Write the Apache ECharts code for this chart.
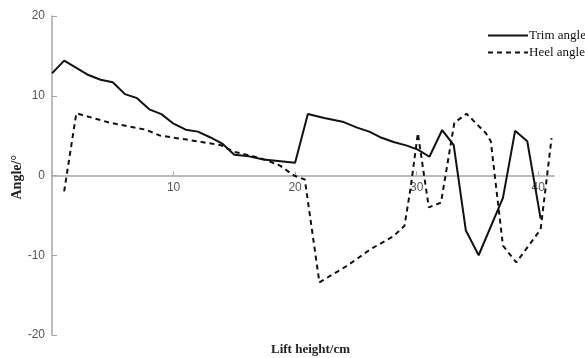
<!DOCTYPE html>
<html>
<head>
<meta charset="utf-8">
<script src="https://cdn.jsdelivr.net/npm/echarts@6/dist/echarts.min.js"></script>
<style>html,body{margin:0;padding:0;background:#fff}#c{width:585px;height:358px}</style>
</head>
<body>
<div id="c"></div>
<script>
var trimX = [0, 1, 2, 3, 4, 5, 6, 7, 8, 9, 10, 11, 12, 13, 14, 15, 16.2, 17.4, 18.8, 20, 21.05, 22.4, 24, 25.1, 26.1, 27, 28.1, 29.2, 30.1, 31.05, 32.1, 33.05, 34.05, 35.1, 37.1, 38.1, 39.1, 40.2];
var trimY = [12.8, 14.4, 13.5, 12.6, 12.0, 11.7, 10.2, 9.7, 8.3, 7.7, 6.5, 5.75, 5.5, 4.8, 4.0, 2.6, 2.4, 2.0, 1.8, 1.6, 7.7, 7.2, 6.7, 6.0, 5.5, 4.8, 4.2, 3.75, 3.25, 2.35, 5.7, 3.8, -6.9, -10.0, -2.8, 5.6, 4.3, -5.4];
var heelX = [1, 2, 4.8, 7.7, 8.9, 11.1, 13.9, 14.9, 16.6, 17.7, 18.8, 19.9, 20.8, 22.0, 24.3, 26.2, 28.1, 29.0, 29.5, 30.1, 31.0, 32.0, 33.1, 34.1, 35.7, 36.1, 37.1, 38.2, 40.2, 41.1];
var heelY = [-2.0, 7.8, 6.6, 5.75, 5.0, 4.5, 3.8, 3.0, 2.4, 1.9, 1.2, 0.0, -0.5, -13.4, -11.3, -9.25, -7.6, -6.3, -1.6, 5.3, -4.0, -3.4, 6.6, 7.75, 5.3, 4.3, -8.8, -10.9, -6.75, 4.7];
var xTicks = [0, 10, 20, 30, 40];
var xLabels = [10, 20, 30, 40];
var seriesNames = ['Trim angle', 'Heel angle'];

function pairs(xs, ys) { return xs.map(function (x, i) { return [x, ys[i]]; }); }

var gridTop = 16, gridBottom = 23, H = 358;
var chart = echarts.init(document.getElementById('c'), null, {renderer: 'canvas'});
chart.setOption({
  animation: false,
  backgroundColor: '#ffffff',
  grid: {left: 52, right: 31, top: gridTop, bottom: gridBottom, containLabel: false},
  legend: {
    left: 482, top: 24, orient: 'vertical', itemWidth: 40, itemHeight: 14, itemGap: 4,
    data: seriesNames,
    itemStyle: {color: 'rgba(0,0,0,0)', borderWidth: 0, opacity: 0},
    textStyle: {fontFamily: 'Liberation Serif', fontSize: 13, color: '#111', padding: [0, 0, 0, -4]}
  },
  xAxis: {
    type: 'value', min: 0, max: 41.3, interval: 10, position: 'bottom',
    offset: -((H - gridTop - gridBottom) / 2),
    axisLine: {onZero: false, lineStyle: {color: '#a6a6a6', width: 1.5}},
    axisTick: {inside: true, length: 4, customValues: xTicks, lineStyle: {color: '#a6a6a6'}},
    axisLabel: {customValues: xLabels, color: '#555', fontFamily: 'Liberation Sans', fontSize: 12, margin: 6},
    splitLine: {show: false}
  },
  yAxis: {
    type: 'value', min: -20, max: 20, interval: 10,
    axisLine: {show: true, onZero: false, lineStyle: {color: '#a6a6a6', width: 1.5}},
    axisTick: {show: true, inside: true, length: 5, lineStyle: {color: '#a6a6a6'}},
    axisLabel: {color: '#555', fontFamily: 'Liberation Sans', fontSize: 12, margin: 7},
    splitLine: {show: false}
  },
  graphic: [
    {type: 'text', left: 10, top: 155, rotation: Math.PI / 2, style: {text: 'Angle/°', fontFamily: 'Liberation Serif', fontWeight: 'bold', fontSize: 14, fill: '#222'}},
    {type: 'text', left: 271, top: 343, style: {text: 'Lift height/cm', fontFamily: 'Liberation Serif', fontWeight: 'bold', fontSize: 13, fill: '#222'}}
  ],
  series: [
    {name: seriesNames[0], type: 'line', symbol: 'none', data: pairs(trimX, trimY),
     lineStyle: {color: '#111', width: 2, type: 'solid'}, itemStyle: {color: '#111'}},
    {name: seriesNames[1], type: 'line', symbol: 'none', data: pairs(heelX, heelY),
     lineStyle: {color: '#111', width: 2, type: [5, 4]}, itemStyle: {color: '#111'}}
  ]
});
</script>
</body>
</html>
